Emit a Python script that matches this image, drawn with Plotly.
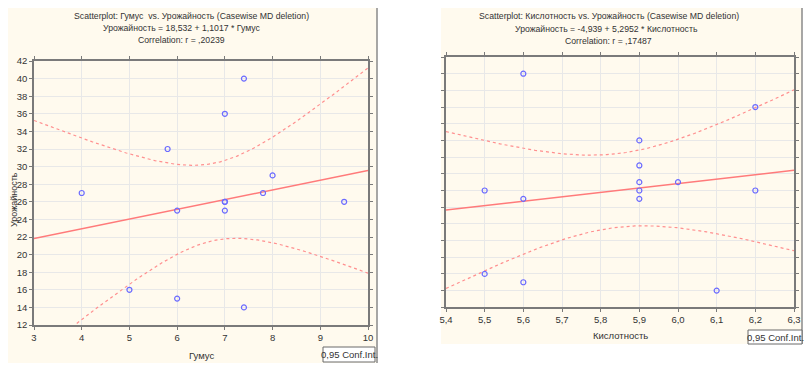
import numpy as np
import plotly.graph_objects as go

# ---------------- data ----------------
gumus = [4, 5, 5.8, 6, 6, 7, 7, 7, 7, 7.4, 7.4, 7.8, 8, 9.5]
yield_g = [27, 16, 32, 25, 15, 36, 26, 26, 25, 40, 14, 27, 29, 26]

kisl = [5.5, 5.5, 5.6, 5.6, 5.6, 5.9, 5.9, 5.9, 5.9, 5.9, 6.0, 6.1, 6.2, 6.2]
yield_k = [26, 16, 40, 25, 15, 32, 29, 27, 26, 25, 27, 14, 36, 26]

title_left = ["Scatterplot: Гумус  vs. Урожайность (Casewise MD deletion)",
              "Урожайность = 18,532 + 1,1017 * Гумус",
              "Correlation: r = ,20239"]
title_right = ["Scatterplot: Кислотность vs. Урожайность (Casewise MD deletion)",
               "Урожайность = -4,939 + 5,2952 * Кислотность",
               "Correlation: r = ,17487"]
x_title_left = "Гумус"
y_title_left = "Урожайность"
x_title_right = "Кислотность"
ci_label = "0,95 Conf.Int."
T_CRIT = 2.1788  # t(0.975, df=12)

W, H = 812, 370
OFF = 8  # page body margin of the html page
FONT = "Liberation Sans, Arial"
TXT = "#333333"


def px(x):
    return (x - OFF) / W


def py(y):
    return 1 - (y - OFF) / H


def fit(xs, ys, lo, hi):
    x = np.asarray(xs, float)
    y = np.asarray(ys, float)
    n = len(x)
    b, a = np.polyfit(x, y, 1)
    resid = y - (a + b * x)
    s = np.sqrt(np.sum(resid ** 2) / (n - 2))
    sxx = np.sum((x - x.mean()) ** 2)
    g = np.linspace(lo, hi, 200)
    yh = a + b * g
    se = s * np.sqrt(1 / n + (g - x.mean()) ** 2 / sxx)
    return g, yh, yh - T_CRIT * se, yh + T_CRIT * se


fig = go.Figure()

POINT = "#6b6bff"
LINE = "#ff7a7a"
BAND = "#ff8f8f"


def add_panel(xs, ys, lo, hi, xa, ya):
    g, yh, lw, up = fit(xs, ys, lo, hi)
    fig.add_trace(go.Scatter(x=g, y=up, mode="lines", xaxis=xa, yaxis=ya,
                             line=dict(color=BAND, width=1.2, dash="dot"),
                             hoverinfo="skip", showlegend=False))
    fig.add_trace(go.Scatter(x=g, y=lw, mode="lines", xaxis=xa, yaxis=ya,
                             line=dict(color=BAND, width=1.2, dash="dot"),
                             hoverinfo="skip", showlegend=False))
    fig.add_trace(go.Scatter(x=g, y=yh, mode="lines", xaxis=xa, yaxis=ya,
                             line=dict(color=LINE, width=1.5),
                             hoverinfo="skip", showlegend=False))
    fig.add_trace(go.Scatter(x=xs, y=ys, mode="markers", xaxis=xa, yaxis=ya,
                             marker=dict(symbol="circle-open", size=5,
                                         color=POINT, line=dict(width=1.2)),
                             showlegend=False))


add_panel(gumus, yield_g, 3, 10, "x", "y")
add_panel(kisl, yield_k, 5.4, 6.3, "x2", "y2")

axis_common = dict(showgrid=True, gridcolor="#e8e8e8", gridwidth=1,
                   showline=True, linecolor="#7a7a7a", linewidth=1.5,
                   mirror="ticks", ticks="outside", ticklen=3,
                   tickcolor="#7a7a7a", zeroline=False, automargin=False,
                   tickfont=dict(family=FONT, size=9.5, color=TXT))

fig.update_layout(
    width=W, height=H,
    autosize=False,
    margin=dict(l=0, r=0, t=0, b=0, pad=0, autoexpand=False),
    paper_bgcolor="white", plot_bgcolor="white",
    separators=", ",
    font=dict(family=FONT, size=9, color=TXT),
    xaxis=dict(domain=[px(34), px(368)], range=[3, 10], dtick=1, anchor="y",
               **axis_common),
    yaxis=dict(domain=[py(325), py(61)], range=[12, 42], dtick=2, anchor="x",
               **axis_common),
    xaxis2=dict(domain=[px(446), px(794)], range=[5.4, 6.3], dtick=0.1,
                tickformat=".1f", anchor="y2", **axis_common),
    yaxis2=dict(domain=[py(307.3), py(57)], range=[12, 42], dtick=2,
                anchor="x2", showticklabels=False, **axis_common),
)

CREAM = "#fffaee"
shapes = [
    dict(type="rect", xref="paper", yref="paper", x0=px(4), x1=px(377),
         y0=py(363), y1=py(5), fillcolor=CREAM, line=dict(width=0),
         layer="below"),
    dict(type="line", xref="paper", yref="paper", x0=px(4), x1=px(377),
         y0=py(5), y1=py(5), line=dict(color="#8a8a8a", width=1.5)),
    dict(type="line", xref="paper", yref="paper", x0=px(377), x1=px(377),
         y0=py(363), y1=py(5), line=dict(color="#8a8a8a", width=1.5)),
    dict(type="rect", xref="paper", yref="paper", x0=px(441), x1=px(802),
         y0=py(344), y1=py(0), fillcolor=CREAM, line=dict(width=0),
         layer="below"),
    dict(type="line", xref="paper", yref="paper", x0=px(802), x1=px(802),
         y0=py(344), y1=py(0), line=dict(color="#8a8a8a", width=1.5)),
    # conf. int. boxes
    dict(type="rect", xref="paper", yref="paper", x0=px(323), x1=px(375),
         y0=py(362), y1=py(347), fillcolor="white",
         line=dict(color="#6a6a6a", width=1)),
    dict(type="rect", xref="paper", yref="paper", x0=px(748), x1=px(802),
         y0=py(344), y1=py(330), fillcolor="white",
         line=dict(color="#6a6a6a", width=1)),
]
fig.update_layout(shapes=shapes)


def label(txt, cx, cy, size=8.7, angle=0):
    return dict(text=txt, x=px(cx), y=py(cy), xref="paper", yref="paper",
                showarrow=False, xanchor="center", yanchor="middle",
                textangle=angle, font=dict(family=FONT, size=size, color=TXT))


ann = []
for txt, cx, cy in zip(title_left, [191, 181.5, 181], [16, 28.5, 40]):
    ann.append(label(txt, cx, cy))
for txt, cx, cy in zip(title_right, [609, 606, 608], [16.5, 29, 40.5]):
    ann.append(label(txt, cx, cy))
ann += [
    label(x_title_left, 201, 355, 9.5),
    label(y_title_left, 14, 200, 9, -90),
    label(x_title_right, 620, 335, 9.5),
    label(ci_label, 349, 354.5, 9.5),
    label(ci_label, 775, 337, 9.5),
]
fig.update_layout(annotations=ann)

fig.write_html("out.html")
